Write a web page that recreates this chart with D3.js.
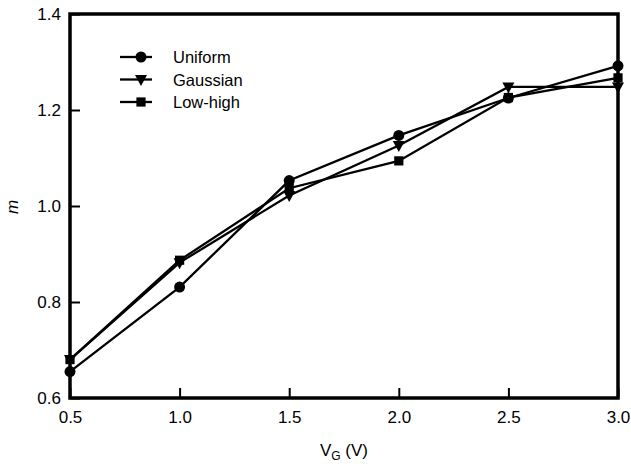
<!DOCTYPE html>
<html><head><meta charset="utf-8">
<script src="https://cdn.jsdelivr.net/npm/d3@7"></script>
<style>body{margin:0;background:#fff}text{font-family:Arial,"Liberation Sans",sans-serif}</style>
</head><body><svg id="c" width="631" height="466"></svg>
<script>
const vg = [0.5, 1.0, 1.5, 2.0, 2.5, 3.0];
const uniform = [0.655, 0.831, 1.053, 1.147, 1.225, 1.292];
const gaussian = [0.68, 0.882, 1.022, 1.126, 1.248, 1.248];
const lowHigh = [0.68, 0.887, 1.037, 1.094, 1.226, 1.267];
const seriesNames = ["Uniform", "Gaussian", "Low-high"];
const xTicks = [0.5, 1.0, 1.5, 2.0, 2.5, 3.0];
const yTicks = [0.6, 0.8, 1.0, 1.2, 1.4];

const svg = d3.select("#c");
const L = 70, R = 618, T = 14, B = 398;
const x = d3.scaleLinear().domain([0.5, 3.0]).range([L, R]);
const y = d3.scaleLinear().domain([0.6, 1.4]).range([B, T]);

const series = [
  {name: seriesNames[0], vals: uniform, sym: d3.symbolCircle, size: 95},
  {name: seriesNames[1], vals: gaussian, sym: "tri", size: 0},
  {name: seriesNames[2], vals: lowHigh, sym: d3.symbolSquare, size: 85}
];

function marker(g, s, cx, cy) {
  if (s.sym === "tri") {
    g.append("path").attr("d", `M${cx-6},${cy-4.5}L${cx+6},${cy-4.5}L${cx},${cy+6.5}Z`).attr("fill", "#000");
  } else {
    g.append("path").attr("d", d3.symbol().type(s.sym).size(s.size)()).attr("transform", `translate(${cx},${cy})`).attr("fill", "#000");
  }
}

// axes with inward ticks
const xAxis = d3.axisBottom(x).tickValues(xTicks).tickSize(-10).tickPadding(13).tickFormat(d3.format(".1f"));
const yAxis = d3.axisLeft(y).tickValues(yTicks).tickSize(-10).tickPadding(9).tickFormat(d3.format(".1f"));
const gx = svg.append("g").attr("transform", `translate(0,${B})`).call(xAxis);
const gy = svg.append("g").attr("transform", `translate(${L},0)`).call(yAxis);
[gx, gy].forEach(g => {
  g.select(".domain").remove();
  g.selectAll(".tick line").attr("stroke", "#000").attr("stroke-width", 2);
  g.selectAll(".tick text").attr("font-size", 17).attr("fill", "#000");
});

// lines and markers
const line = d3.line().x((d, i) => x(vg[i])).y(d => y(d));
series.forEach(s => {
  svg.append("path").datum(s.vals).attr("d", line).attr("fill", "none").attr("stroke", "#000").attr("stroke-width", 2.3);
});
series.forEach(s => {
  const g = svg.append("g");
  s.vals.forEach((v, i) => marker(g, s, x(vg[i]), y(v)));
});

// frame
svg.append("rect").attr("x", L).attr("y", T).attr("width", R - L).attr("height", B - T)
  .attr("fill", "none").attr("stroke", "#000").attr("stroke-width", 3.5);

// legend
const lg = svg.append("g");
series.forEach((s, i) => {
  const ly = 57 + i * 22.5;
  lg.append("line").attr("x1", 120).attr("x2", 152).attr("y1", ly).attr("y2", ly).attr("stroke", "#000").attr("stroke-width", 2.3);
  marker(lg, s, 141, ly);
  lg.append("text").attr("x", 173).attr("y", ly + 6).attr("font-size", 16.5).text(s.name);
});

// axis titles
const xt = svg.append("text").attr("x", 344).attr("y", 456).attr("text-anchor", "middle").attr("font-size", 17);
xt.append("tspan").text("V");
xt.append("tspan").attr("font-size", 12).attr("dy", 4).text("G");
xt.append("tspan").attr("dy", -4).text(" (V)");
svg.append("text").attr("transform", `translate(18,207) rotate(-90)`).attr("text-anchor", "middle")
  .attr("font-size", 17).attr("font-style", "italic").text("m");
</script></body></html>
